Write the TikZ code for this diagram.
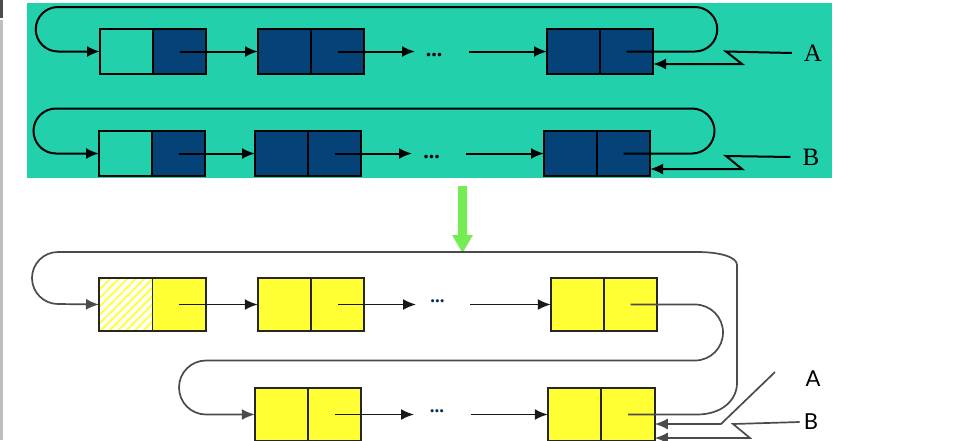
\documentclass[tikz,border=0pt]{standalone}
\usepackage{fontspec}
\setmainfont{Liberation Serif}
\newfontfamily\labsans{Lato}
\usetikzlibrary{arrows.meta,patterns.meta}
\definecolor{tealbg}{RGB}{35,208,172}
\definecolor{navy}{RGB}{4,66,120}
\definecolor{ylw}{RGB}{255,255,51}
\definecolor{loopgray}{RGB}{75,75,75}
\definecolor{grn}{RGB}{118,236,84}
\begin{document}
\begin{tikzpicture}[x=1pt,y=-1pt,
  cell/.style={rectangle,draw=black,inner sep=0pt,outer sep=0pt,minimum width=53pt,minimum height=45pt},
  navycell/.style={cell,fill=navy,line width=1.9pt},
  tealcell/.style={cell,line width=2.5pt},
  tealthin/.style={cell,line width=1.9pt},
  ycell/.style={rectangle,draw=black!85,inner sep=0pt,outer sep=0pt,minimum width=53.5pt,minimum height=53pt,line width=1.6pt,fill=ylw},
  hcell/.style={rectangle,draw=black!85,inner sep=0pt,outer sep=0pt,minimum width=53.5pt,minimum height=53pt,line width=1.6pt,fill=white,
    pattern={Lines[angle=45,distance=6pt,line width=1.8pt]},pattern color=ylw},
  conn/.style={line width=2pt,-{Latex[length=13pt,width=11pt]}},
  bconn/.style={line width=1.7pt,draw=black!90,-{Latex[length=13pt,width=11pt]}},
  gloop/.style={line width=1.7pt,draw=loopgray,-{Latex[length=13pt,width=11pt]}},
  topdots/.style={font=\bfseries\fontsize{22}{22}\selectfont,inner sep=0pt},
  botdots/.style={font=\bfseries\fontsize{19}{19}\selectfont,inner sep=0pt,text=navy!70!black},
  serlab/.style={font=\fontsize{25}{25}\selectfont,inner sep=2pt},
  sanslab/.style={font=\labsans\fontsize{22}{22}\selectfont,inner sep=2pt}
]
\useasboundingbox (0,0) rectangle (960,440);
\clip (0,0) rectangle (960,440);
% screenshot edge
\fill[black!25] (0,20) rectangle (3,440);
\fill[black!70] (0,0) rectangle (3,18);
% top panel
\fill[tealbg] (27,3) rectangle (832,178);

% ---- row A ----
\node[tealcell] (A1L) at (126.5,51.5) {};
\node[navycell] (A1R) at (179.5,51.5) {};
\node[navycell] (A2L) at (284.5,51.5) {};
\node[navycell] (A2R) at (337.5,51.5) {};
\node[navycell] (A3L) at (573.5,51.5) {};
\node[navycell] (A3R) at (626.5,51.5) {};
\node[topdots] (aDots) at (434,55) {...};
\coordinate (aE) at (415,51.5);
\coordinate (aS) at (469,51.5);
\draw[conn] (A1R.center) -- (A2L.west);
\draw[conn] (A2R.center) -- (aE);
\draw[conn] (aS) -- (A3L.west);
\draw[conn] (A3R.center) -- (695,51.5) arc[start angle=90,end angle=-90,radius=22.25]
  -- (58,7) arc[start angle=-90,end angle=-270,radius=22.25] -- (A1L.west);
\node[serlab] (labA) at (813,53) {A};
\draw[conn] ([xshift=-10pt]labA.west) -- (726,51.5) -- (742,64) -- ([yshift=-12.5pt]A3R.east);

% ---- row B ----
\node[tealthin] (B1L) at (125.5,153.5) {};
\node[navycell] (B1R) at (178.5,153.5) {};
\node[navycell] (B2L) at (281.5,153.5) {};
\node[navycell] (B2R) at (334.5,153.5) {};
\node[navycell] (B3L) at (570.5,153.5) {};
\node[navycell] (B3R) at (623.5,153.5) {};
\node[topdots] (bDots) at (431.5,157) {...};
\coordinate (bE) at (412,153.5);
\coordinate (bS) at (466,153.5);
\draw[conn] (B1R.center) -- (B2L.west);
\draw[conn] (B2R.center) -- (bE);
\draw[conn] (bS) -- (B3L.west);
\draw[conn] (B3R.center) -- (692,153.5) arc[start angle=90,end angle=-90,radius=22.5]
  -- (56,108.5) arc[start angle=-90,end angle=-270,radius=22.5] -- (B1L.west);
\node[serlab] (labB) at (811,157) {B};
\draw[conn] ([xshift=-10pt]labB.west) -- (726,156) -- (742,169) -- ([yshift=-15.5pt]B3R.east);

% ---- green arrow ----
\fill[grn] (458,186) -- (467,186) -- (467,235) -- (473,235) -- (462.5,253) -- (452,235) -- (458,235) -- cycle;

% ---- row C ----
\node[hcell] (C1L) at (125.75,304.5) {};
\node[ycell] (C1R) at (179.25,304.5) {};
\node[ycell] (C2L) at (284.5,304.5) {};
\node[ycell] (C2R) at (337.5,304.5) {};
\node[ycell] (C3L) at (577.5,304.5) {};
\node[ycell] (C3R) at (630.5,304.5) {};
\node[botdots] (cDots) at (437.5,301) {...};
\coordinate (cE) at (416,304.5);
\coordinate (cS) at (470,304.5);
\draw[bconn] (C1R.center) -- (C2L.west);
\draw[bconn] (C2R.center) -- (cE);
\draw[bconn] (cS) -- (C3L.west);

% ---- row D ----
\node[ycell] (D1L) at (281.5,414.5) {};
\node[ycell] (D1R) at (334.5,414.5) {};
\node[ycell] (D2L) at (574.5,414.5) {};
\node[ycell] (D2R) at (628,414.5) {};
\node[botdots] (dDots) at (437,411) {...};
\coordinate (dE) at (414,414.5);
\coordinate (dS) at (471,414.5);
\draw[bconn] (D1R.center) -- (dE);
\draw[bconn] (dS) -- (D2L.west);

% inner loop C3 -> D1
\draw[gloop] (C3R.center) -- (695,304.5) arc[start angle=-90,end angle=90,radius=28]
  -- (206,360.5) arc[start angle=-90,end angle=-270,radius=27] -- (D1L.west);
% outer loop D2 -> C1
\draw[gloop] (D2R.center) -- (697,414.5) .. controls (722,414.5) and (737,400) .. (737,383)
  -- (737,265) .. controls (737,257) and (720,252) .. (697,252)
  -- (58,252) arc[start angle=-90,end angle=-270,radius=26] -- (C1L.west);

% pointers
\coordinate (pA) at (775,372);
\node[sanslab] (labA2) at (813,379) {A};
\node[sanslab] (labB2) at (811,422) {B};
\draw[gloop] (pA) -- (721,424) -- ([yshift=-9.5pt]D2R.east);
\draw[gloop] ([xshift=-2pt]labB2.west) -- (733,424) -- (750,438) -- ([yshift=-23.5pt]D2R.east);
\end{tikzpicture}
\end{document}
